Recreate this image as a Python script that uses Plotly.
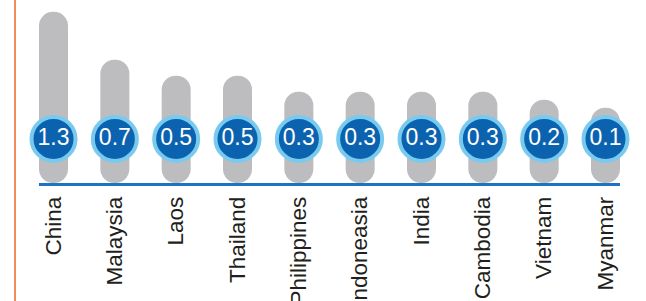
import plotly.graph_objects as go

countries = ["China", "Malaysia", "Laos", "Thailand", "Philippines", "Indoneasia",
             "India", "Cambodia", "Vietnam", "Myanmar"]
values = [1.3, 0.7, 0.5, 0.5, 0.3, 0.3, 0.3, 0.3, 0.2, 0.1]
value_labels = ["1.3", "0.7", "0.5", "0.5", "0.3", "0.3", "0.3", "0.3", "0.2", "0.1"]

BASE = -0.842      # where the bars start (visual offset below zero)
BADGE_Y = -0.29    # vertical position of the value badges
BAR_W = 0.473

fig = go.Figure()
fig.add_trace(go.Bar(
    x=countries,
    y=[v - BASE for v in values],
    base=BASE,
    width=BAR_W,
    marker=dict(color="#BDBDBF", line=dict(width=0), cornerradius="50%"),
    hoverinfo="skip",
))
fig.add_trace(go.Scatter(
    x=countries,
    y=[BADGE_Y] * len(countries),
    mode="markers+text",
    text=value_labels,
    textposition="middle center",
    textfont=dict(family="Liberation Sans, Arial, sans-serif", size=23, color="white"),
    marker=dict(size=44, color="#0B63B0", line=dict(color="#78CBEE", width=4)),
    hoverinfo="skip",
    cliponaxis=False,
))

fig.update_layout(
    width=646, height=301,
    margin=dict(l=39, r=26, t=11, b=118, autoexpand=False),
    paper_bgcolor="white", plot_bgcolor="white",
    showlegend=False,
    xaxis=dict(
        range=[-BAR_W / 2, len(countries) - 1 + BAR_W / 2],
        showgrid=False, zeroline=False, automargin=False,
        showline=True, linecolor="#1E72C2", linewidth=2.5,
        ticks="", tickangle=-90,
        tickfont=dict(family="Liberation Sans, Arial, sans-serif", size=22.5, color="#231F20"),
        ticklabelstandoff=2,
        fixedrange=True,
    ),
    yaxis=dict(
        range=[BASE, 1.31],
        visible=False, showgrid=False, zeroline=False, automargin=False,
        fixedrange=True,
    ),
    shapes=[dict(
        type="line", xref="paper", yref="paper",
        x0=-24 / 581, x1=-24 / 581, y0=-118 / 172, y1=1 + 11 / 172,
        line=dict(color="#F58A5B", width=2),
    )],
)

fig.write_html("out.html", config={"displayModeBar": False},
               post_script="document.body.style.margin='0';document.body.style.overflow='hidden';")
